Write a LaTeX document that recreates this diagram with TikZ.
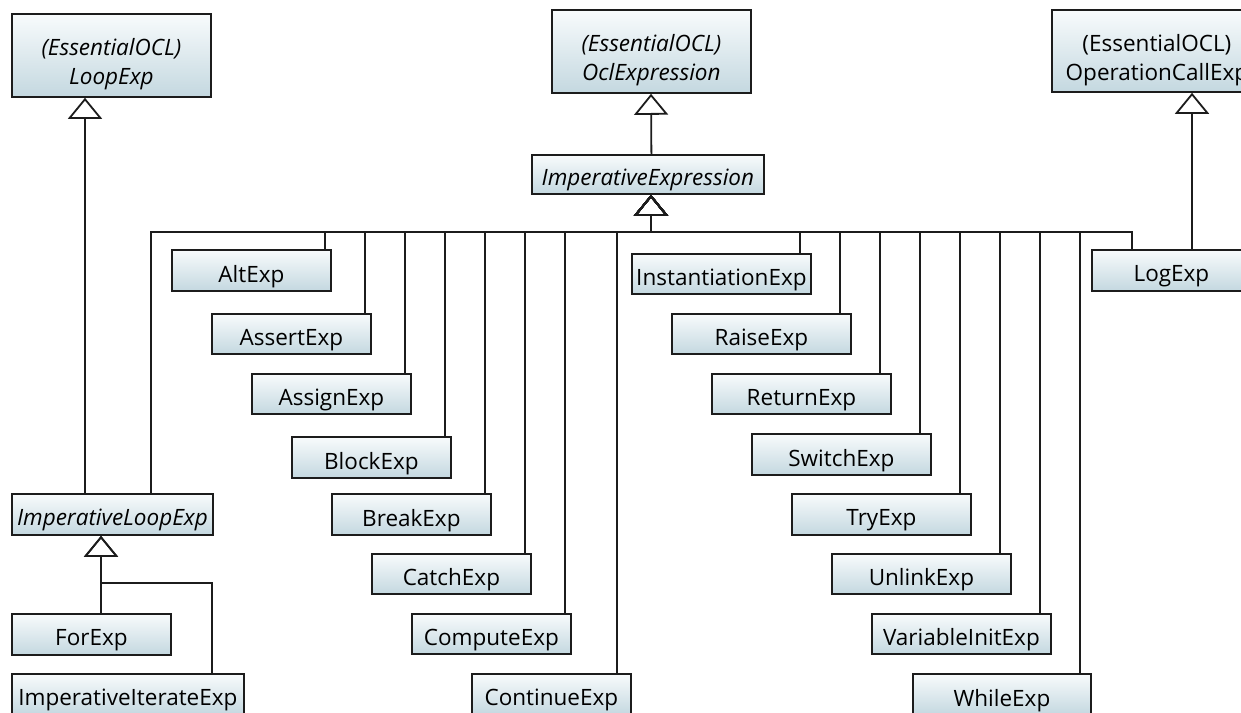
\documentclass[tikz,border=0pt]{standalone}
\usepackage{fontspec}
\setmainfont{Open Sans}
\usetikzlibrary{arrows.meta,shadows}
\definecolor{boxtop}{HTML}{F8FBFC}
\definecolor{boxbot}{HTML}{C4D8E0}
\definecolor{edgecol}{HTML}{1C1C1C}
\tikzset{
  umlcls/.style={draw=edgecol, line width=1.8pt, top color=boxtop, bottom color=boxbot,
    inner sep=0pt, anchor=north west,
    general shadow={fill=black!15, shadow xshift=1.5pt, shadow yshift=-1.5pt}},
  umltxt/.style={inner sep=0pt, align=center, font=\fontsize{22.5}{29}\selectfont, text=black},
  gen/.style={draw=edgecol, line width=1.8pt,
    -{Triangle[open, length=21pt, width=34pt, line width=1.8pt]}},
}
% name, x, y, width, height, text shift, text
\newcommand\umlbox[7]{%
  \node[umlcls, minimum width=#4pt, minimum height=#5pt] (#1) at (#2,#3) {};
  \node[umltxt] at ([yshift=#6pt]#1.center) {#7};}
\begin{document}
\begin{tikzpicture}[x=1pt, y=-1pt]
\useasboundingbox (0,0) rectangle (1241,712);
\clip (0,0) rectangle (1241,712);
% top classes
\umlbox{loop}{11}{13}{199}{83}{-9}{\itshape (EssentialOCL)\\\itshape LoopExp}
\umlbox{ocl}{551}{9}{199}{83}{-9}{\itshape (EssentialOCL)\\\itshape OclExpression}
\umlbox{opc}{1051}{9}{210}{82}{-9}{(EssentialOCL)\\OperationCallExp}
\umlbox{impexp}{531}{154}{232}{39}{-6}{\itshape ImperativeExpression}
% left column
\umlbox{ilx}{11}{493}{201}{41}{-6}{\itshape ImperativeLoopExp}
\umlbox{forexp}{11}{613}{159}{41}{-6}{ForExp}
\umlbox{iter}{11}{673}{232}{41}{-6}{ImperativeIterateExp}
% left staircase
\umlbox{alt}{171}{249}{159}{41}{-6}{AltExp}
\umlbox{assert}{211}{313}{159}{40}{-6}{AssertExp}
\umlbox{assign}{251}{373}{159}{40}{-6}{AssignExp}
\umlbox{block}{291}{436}{159}{41}{-6}{BlockExp}
\umlbox{break}{331}{493}{159}{41}{-6}{BreakExp}
\umlbox{catch}{371}{553}{159}{40}{-6}{CatchExp}
\umlbox{compute}{411}{613}{159}{40}{-6}{ComputeExp}
\umlbox{continue}{471}{673}{159}{41}{-6}{ContinueExp}
% right staircase
\umlbox{inst}{631}{253}{179}{40}{-6}{InstantiationExp}
\umlbox{raise}{671}{313}{179}{40}{-6}{RaiseExp}
\umlbox{return}{711}{373}{179}{40}{-6}{ReturnExp}
\umlbox{switch}{751}{433}{179}{41}{-6}{SwitchExp}
\umlbox{try}{791}{493}{179}{41}{-6}{TryExp}
\umlbox{unlink}{831}{553}{179}{40}{-6}{UnlinkExp}
\umlbox{varinit}{871}{613}{179}{40}{-6}{VariableInitExp}
\umlbox{while}{912}{673}{178}{41}{-6}{WhileExp}
\umlbox{log}{1091}{249}{159}{41}{-6}{LogExp}
% generalizations
\coordinate (bus) at (651,232);
\draw[gen] (ocl.south |- impexp.north) -- (ocl.south -| bus);
\draw[gen] ([xshift=-7pt]alt.north east) |- (bus) -- (bus |- impexp.south);
\draw[gen] ([xshift=-7pt]assert.north east) |- (bus) -- (bus |- impexp.south);
\draw[gen] ([xshift=-7pt]assign.north east) |- (bus) -- (bus |- impexp.south);
\draw[gen] ([xshift=-7pt]block.north east) |- (bus) -- (bus |- impexp.south);
\draw[gen] ([xshift=-7pt]break.north east) |- (bus) -- (bus |- impexp.south);
\draw[gen] ([xshift=-7pt]catch.north east) |- (bus) -- (bus |- impexp.south);
\draw[gen] ([xshift=-7pt]compute.north east) |- (bus) -- (bus |- impexp.south);
\draw[gen] ([xshift=-15pt]continue.north east) |- (bus) -- (bus |- impexp.south);
\draw[gen] ([xshift=140pt]ilx.north west) |- (bus) -- (bus |- impexp.south);
\draw[gen] ([xshift=-12pt]inst.north east) |- (bus) -- (bus |- impexp.south);
\draw[gen] ([xshift=-12pt]raise.north east) |- (bus) -- (bus |- impexp.south);
\draw[gen] ([xshift=-12pt]return.north east) |- (bus) -- (bus |- impexp.south);
\draw[gen] ([xshift=-12pt]switch.north east) |- (bus) -- (bus |- impexp.south);
\draw[gen] ([xshift=-12pt]try.north east) |- (bus) -- (bus |- impexp.south);
\draw[gen] ([xshift=-12pt]unlink.north east) |- (bus) -- (bus |- impexp.south);
\draw[gen] ([xshift=-12pt]varinit.north east) |- (bus) -- (bus |- impexp.south);
\draw[gen] ([xshift=-12pt]while.north east) |- (bus) -- (bus |- impexp.south);
\draw[gen] ([xshift=41pt]log.north west) |- (bus) -- (bus |- impexp.south);
% LogExp -> OperationCallExp
\coordinate (logup) at ([xshift=101pt]log.north west);
\draw[gen] (logup) -- (logup |- opc.south);
% ImperativeLoopExp -> LoopExp
\coordinate (ilxup) at ([xshift=74pt]ilx.north west);
\draw[gen] (ilxup) -- (ilxup |- loop.south);
% children of ImperativeLoopExp
\coordinate (forup) at ([xshift=90pt]forexp.north west);
\coordinate (ljn) at (101,583);
\draw[gen] (forup) -- (forup |- ilx.south);
\draw[gen] ([xshift=-33pt]iter.north east) |- (ljn) -- (ljn |- ilx.south);
\end{tikzpicture}
\end{document}
